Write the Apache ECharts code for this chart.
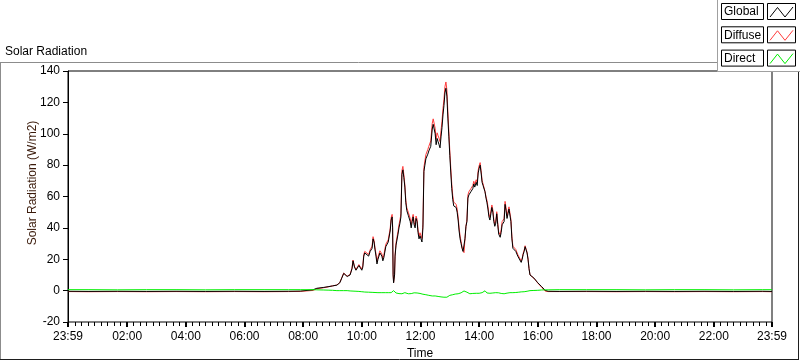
<!DOCTYPE html>
<html>
<head>
<meta charset="utf-8">
<script src="https://cdn.jsdelivr.net/npm/echarts@6/dist/echarts.min.js"></script>
<style>
html,body{margin:0;padding:0;background:#fff;}
#chart{width:800px;height:361px;}
</style>
</head>
<body>
<div id="chart"></div>
<script>
// Time axis tick labels (minutes after midnight; -1 = 23:59 of previous day)
const tickTimes  = [-1, 120, 240, 360, 480, 600, 720, 840, 960, 1080, 1200, 1320, 1439];
const tickLabels = ['23:59','02:00','04:00','06:00','08:00','10:00','12:00','14:00','16:00','18:00','20:00','22:00','23:59'];
const yTicks = [-20, 0, 20, 40, 60, 80, 100, 120, 140];

const seriesNames = ['Global', 'Diffuse', 'Direct'];

// Sample times in minutes after midnight
const timeMin = [
  -1,40,100,160,220,280,340,400,450,
  474,500,508,521,531,540,549,555,559,563,
  566,570,576,580,582,585,588,592,594,598,
  600,602,604,606,610,614,617,621,623,625,
  627,629,631,633,637,641,643,645,649,654,
  656,658,660,662,663,664,665,667,668,670,
  672,674,676,678,680,682,684,686,688,690,
  692,695,699,701,703,705,707,709,711,713,
  715,717,719,721,723,725,727,729,731,733,
  735,737,739,741,744,746,748,750,752,754,
  756,758,760,762,764,766,768,770,772,774,
  776,778,780,782,784,786,788,791,793,795,
  797,799,801,803,805,807,809,811,813,815,
  817,819,821,823,825,827,829,831,834,836,
  838,840,842,844,846,848,850,852,854,856,
  858,860,862,864,866,868,870,872,874,876,
  878,880,883,885,887,889,891,893,895,897,
  899,901,903,905,907,909,911,913,915,917,
  919,921,923,926,928,930,932,934,936,938,
  940,942,944,948,952,956,960,964,968,971,
  975,981,1005,1060,1120,1180,1240,1300,1360,1420,1439
];

const globalRad = [
  -0.4,-0.5,-0.4,-0.5,-0.4,-0.5,-0.4,-0.5,-0.4,
  -0.3,0.5,1.5,2.0,2.5,3.0,3.5,5,8,11,
  10,9,10,14,19,15,13,14,16,15,
  13,15,22,24,23,22,25,27,33,31,
  26,22,17,20,24,22,19,21,28,31,
  30,38,45,47,40,10,5,10,22,29,
  30,36,40,43,47,74,77,72,66,56,
  51,48,44,40,44,47,42,40,46,44,
  37,33,35,33,31,40,76,80,84,85,
  87,89,90,92,103,106,105,100,93,97,
  95,93,91,98,104,112,118,126,129,124,
  110,98,86,75,65,58,54,55,53,50,
  45,38,33,30,27,25,24,33,41,44,
  59,61,62,63,62,65,68,66,69,67,
  75,78,80,75,69,67,68,63,59,56,
  52,47,45,49,53,50,44,41,43,49,
  42,36,34,37,42,41,44,55,51,46,
  49,52,51,44,33,27,26,27,25,25,
  22,23,21,18,20,23,25,28,26,24,
  20,14,10,9,8,7,5,4,2.5,1.5,
  0.2,-0.4,-0.5,-0.4,-0.5,-0.4,-0.5,-0.4,-0.5,-0.4,-0.5
];

const diffuseRad = [
  -0.6,-0.7,-0.6,-0.7,-0.6,-0.7,-0.6,-0.7,-0.6,
  -0.5,0.1,1.2,1.8,2.4,3.0,3.6,5.2,8.2,11.2,
  10.3,9.2,10.3,14.5,19.5,15.4,13.5,14.6,16.6,15.7,
  13.8,15.9,23,25,24,23,26,28.3,34.4,32,
  27.3,23.3,18.5,21.4,25.4,23.4,20.4,22.5,29.5,32.4,
  31.5,39.5,46.5,48.6,41,10.5,5.2,10.2,22.6,30.5,
  31.7,37.8,42,45,49,76.5,79.2,73.8,67.5,57.6,
  52.8,50,46,42,45.8,48.6,43.5,41.5,47.5,45.6,
  38.7,34.7,36.9,35,33.3,42.4,78.5,82.6,86.7,87.8,
  90,92,93,95.4,106.5,109.5,108.5,103.5,96.5,100.6,
  98.8,97,95,102,108,116,122,130,133,128,
  114,101.5,89,77.8,67.8,60.6,56.4,57.2,55,52,
  47,40,34.8,31.4,27.8,25.5,24.2,33.1,41.1,45,
  61,63,64,65,64,67,69.7,67.7,70.7,68.7,
  76.7,79.7,81.6,76.5,70.3,68,68.5,63.1,59.8,57.5,
  53.7,48.7,46.7,50.7,54.6,51.5,45.4,42.3,44.3,50.3,
  43.3,37.4,35.6,38.8,44,43,46,56.9,52.8,47.6,
  50.5,53.4,52.3,45.3,34.3,28.3,27.3,28.2,26.2,26.1,
  23,24,21.9,18.8,20.7,23.7,25.7,28.6,26.5,24.4,
  20.3,14.2,10,9,7.9,6.9,4.8,3.7,2.1,1.1,
  -0.3,-0.6,-0.6,-0.6,-0.7,-0.6,-0.7,-0.6,-0.7,-0.6,-0.7
];

const directRad = [
  0.6,0.6,0.5,0.6,0.6,0.5,0.6,0.6,0.6,
  0.6,0.6,0.5,0.4,0.3,0.2,0.0,0.0,0.0,0.0,
  -0.1,0.0,-0.2,-0.3,-0.3,-0.3,-0.4,-0.5,-0.5,-0.6,
  -0.7,-0.8,-0.8,-0.9,-0.9,-1.0,-1.0,-1.1,-1.1,-1.2,
  -1.2,-1.2,-1.3,-1.3,-1.3,-1.3,-1.3,-1.3,-1.3,-1.3,
  -1.3,-1.3,-1.3,-1.3,-1.0,-0.5,0.0,0.0,-0.5,-1.5,
  -1.7,-1.8,-1.9,-2.0,-2.0,-2.0,-1.9,-1.6,-1.3,-1.5,
  -1.8,-2.0,-2.0,-1.9,-1.7,-1.5,-1.4,-1.4,-1.4,-1.5,
  -1.6,-1.7,-1.8,-2.0,-2.2,-2.3,-2.4,-2.5,-2.6,-2.7,
  -2.8,-3.0,-3.2,-3.3,-3.4,-3.4,-3.4,-3.4,-3.5,-3.6,
  -3.7,-3.8,-3.9,-4.0,-4.0,-4.1,-4.2,-4.2,-4.3,-4.2,
  -4.0,-3.5,-3.0,-2.8,-2.8,-2.6,-2.4,-2.2,-2.0,-2.0,
  -2.0,-2.0,-1.8,-1.4,-0.8,-0.5,-0.2,-0.1,-0.1,-1.0,
  -2.0,-2.0,-2.0,-1.9,-1.8,-1.8,-1.7,-1.7,-1.7,-1.7,
  -1.7,-1.7,-1.6,-1.5,-1.3,-1.0,-0.5,-0.1,-0.8,-1.5,
  -1.7,-1.7,-1.7,-1.7,-1.6,-1.5,-1.4,-1.3,-1.3,-1.3,
  -1.3,-1.4,-1.6,-1.8,-2.0,-2.0,-2.0,-1.9,-1.8,-1.6,
  -1.5,-1.4,-1.3,-1.3,-1.3,-1.3,-1.3,-1.2,-1.2,-1.1,
  -1.0,-1.0,-0.9,-0.8,-0.7,-0.7,-0.7,-0.6,-0.5,-0.4,
  -0.3,-0.2,0.0,0.0,0.1,0.1,0.2,0.3,0.4,0.4,
  0.5,0.5,0.6,0.6,0.6,0.5,0.6,0.6,0.5,0.6,0.6
];

const colors = { Global: '#000000', Diffuse: '#ff3b3b', Direct: '#00ee00' };
const FONT = 'Liberation Sans, Arial, sans-serif';

function pairs(vals) { return timeMin.map((t, i) => [t, vals[i]]); }

// minor tick positions on the time axis (every 40/3 minutes, skipping majors)
const minorTicks = [];
for (let n = 1; n * 40 / 3 < 1439; n++) { if (n % 9 !== 0) minorTicks.push(n * 40 / 3); }

const GL = 68, GT = 71, GW = 704, GH = 251;

const chart = echarts.init(document.getElementById('chart'), null, { renderer: 'canvas' });

function legendRow(i, name) {
  const y0 = 3 + i * 23.3;
  return [
    { type: 'rect', z: 101, shape: { x: 721.5, y: y0 + 0.5, width: 42, height: 16 },
      style: { fill: '#fff', stroke: '#000', lineWidth: 1 } },
    { type: 'text', z: 102, x: 724, y: y0 + 9, style: { text: name, font: '12px ' + FONT, fill: '#000', verticalAlign: 'middle', align: 'left' } },
    { type: 'rect', z: 101, shape: { x: 767.5, y: y0 + 0.5, width: 28, height: 16 },
      style: { fill: '#fff', stroke: '#000', lineWidth: 1 } },
    { type: 'polyline', z: 102, shape: { points: [[770, y0 + 14], [777.5, y0 + 4.5], [785, y0 + 14], [793, y0 + 4]] },
      style: { stroke: colors[name], lineWidth: 1, fill: null } }
  ];
}

const graphics = [
  // outer frame
  { type: 'line', z: 90, shape: { x1: 0, y1: 62.5, x2: 717, y2: 62.5 }, style: { stroke: '#8c8c8c', lineWidth: 1 } },
  { type: 'line', z: 90, shape: { x1: 0.5, y1: 62, x2: 0.5, y2: 360 }, style: { stroke: '#8c8c8c', lineWidth: 1 } },
  { type: 'line', z: 90, shape: { x1: 798.5, y1: 72, x2: 798.5, y2: 360 }, style: { stroke: '#1e1e1e', lineWidth: 1 } },
  { type: 'line', z: 90, shape: { x1: 0, y1: 359.5, x2: 799, y2: 359.5 }, style: { stroke: '#1e1e1e', lineWidth: 1 } },
  // titles
  { type: 'text', z: 90, x: 5, y: 46, style: { text: 'Solar Radiation', font: '12px ' + FONT, fill: '#000', verticalAlign: 'top' } },
  { type: 'text', z: 90, x: 33, y: 183, rotation: Math.PI / 2,
    style: { text: 'Solar Radiation (W/m2)', font: '12px ' + FONT, fill: '#3a1a0a', align: 'center', verticalAlign: 'middle' } },
  // legend panel
  { type: 'rect', z: 100, shape: { x: 717, y: 0, width: 83, height: 72 }, style: { fill: '#ffffff', stroke: null } },
  { type: 'line', z: 100, shape: { x1: 717.5, y1: 0, x2: 717.5, y2: 72 }, style: { stroke: '#a0a0a0', lineWidth: 1 } },
  { type: 'line', z: 100, shape: { x1: 717, y1: 71.5, x2: 800, y2: 71.5 }, style: { stroke: '#a0a0a0', lineWidth: 1 } }
];
seriesNames.forEach((n, i) => graphics.push(...legendRow(i, n)));

const option = {
  animation: false,
  backgroundColor: '#ffffff',
  textStyle: { fontFamily: FONT },
  grid: { left: GL, top: GT, width: GW, height: GH, show: true, borderColor: '#000', borderWidth: 1,
    backgroundColor: 'transparent', containLabel: false, outerBoundsMode: 'none' },
  xAxis: [
    {
      type: 'value', min: -1, max: 1439, position: 'bottom',
      name: 'Time', nameLocation: 'middle', nameGap: 20,
      nameTextStyle: { fontSize: 12, color: '#000', fontFamily: FONT },
      axisLine: { show: true, onZero: false, lineStyle: { color: '#808080', width: 1 } },
      axisTick: { show: true, customValues: tickTimes, length: 5, lineStyle: { color: '#000', width: 2 } },
      axisLabel: { show: true, customValues: tickTimes, margin: 9, fontSize: 12, color: '#000', fontFamily: FONT,
        showMinLabel: true, showMaxLabel: true, hideOverlap: false,
        formatter: v => { const i = tickTimes.indexOf(v); return i >= 0 ? tickLabels[i] : ''; } },
      splitLine: { show: false }
    },
    {
      // minor ticks: top-positioned axis shifted down onto the bottom edge, ticks pointing down
      type: 'value', min: -1, max: 1439, position: 'top', offset: -GH,
      axisLine: { show: false, onZero: false },
      axisTick: { show: true, inside: true, customValues: minorTicks, length: 4, lineStyle: { color: '#000', width: 1 } },
      axisLabel: { show: false },
      splitLine: { show: false }
    }
  ],
  yAxis: [
    {
      type: 'value', min: -20, max: 140, interval: 20, position: 'left',
      axisLine: { show: true, onZero: false, lineStyle: { color: '#000', width: 1 } },
      axisTick: { show: true, length: 5, lineStyle: { color: '#000', width: 1 } },
      axisLabel: { margin: 8, fontSize: 12, color: '#000', fontFamily: FONT,
        formatter: v => (yTicks.indexOf(v) >= 0 ? String(v) : '') },
      splitLine: { show: false }
    },
    {
      type: 'value', min: -20, max: 140, interval: 20, position: 'right',
      axisLine: { show: true, onZero: false, lineStyle: { color: '#808080', width: 1 } },
      axisTick: { show: false }, axisLabel: { show: false }, splitLine: { show: false }
    }
  ],
  series: [
    { name: 'Diffuse', type: 'line', data: pairs(diffuseRad), showSymbol: false, symbol: 'none',
      lineStyle: { color: colors.Diffuse, width: 1 }, itemStyle: { color: colors.Diffuse }, z: 2 },
    { name: 'Global', type: 'line', data: pairs(globalRad), showSymbol: false, symbol: 'none',
      lineStyle: { color: colors.Global, width: 1 }, itemStyle: { color: colors.Global }, z: 3 },
    { name: 'Direct', type: 'line', data: pairs(directRad), showSymbol: false, symbol: 'none',
      lineStyle: { color: colors.Direct, width: 1 }, itemStyle: { color: colors.Direct }, z: 4 }
  ],
  graphic: graphics
};

chart.setOption(option);
</script>
</body>
</html>
